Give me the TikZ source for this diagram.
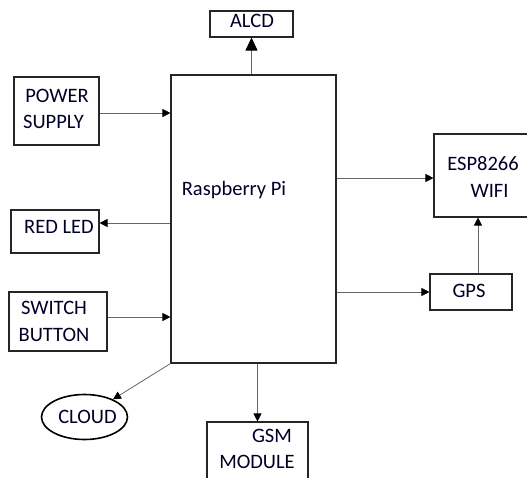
\documentclass[tikz,border=0pt]{standalone}
\usepackage{fontspec}
\setmainfont{Carlito}
\usetikzlibrary{arrows.meta,shapes.geometric}
\begin{document}
\begin{tikzpicture}[x=1pt,y=-1pt,
  box/.style={draw=black!85, line width=1.1pt, inner sep=0pt},
  txt/.style={font=\fontsize{20.5}{27}\selectfont, text=black!85!blue, inner sep=0pt, anchor=base},
  con/.style={draw=black!60, line width=0.8pt, -{Triangle[length=8pt,width=8pt,fill=black,color=black]}},
  bigcon/.style={draw=black!60, line width=0.8pt, -{Triangle[length=13pt,width=12pt,fill=black,color=black]}},
]
\path[use as bounding box] (0,0) rectangle (527,477);
\clip (0,0) rectangle (527,477);

% boxes
\node[box, minimum width=165pt, minimum height=288pt] (pi) at (253.5,219) {};
\node[box, minimum width=83pt, minimum height=26pt] (alcd) at (251.5,24) {};
\node[box, minimum width=85pt, minimum height=68pt] (ps) at (56.5,111) {};
\node[box, minimum width=88pt, minimum height=43pt] (led) at (55,231.5) {};
\node[box, minimum width=98pt, minimum height=59pt] (sw) at (58,321.5) {};
\node[box, minimum width=106pt, minimum height=83pt] (esp) at (487,175.5) {};
\node[box, minimum width=82pt, minimum height=36pt] (gps) at (471,292) {};
\node[box, minimum width=101pt, minimum height=68pt] (gsm) at (257.5,456) {};
\node[draw=black, line width=1.6pt, ellipse, inner sep=0pt, minimum width=86pt, minimum height=45pt] (cloud) at (84.5,417) {};

% texts
\node[txt] (tpi) at (234,195) {Raspberry Pi};
\node[txt] (talcd) at (252,27) {ALCD};
\node[txt] (tps1) at (57,102) {POWER};
\node[txt] (tps2) at (53.5,128) {SUPPLY};
\node[txt] (tled) at (59,233) {RED LED};
\node[txt] (tsw1) at (54,314) {SWITCH};
\node[txt] (tsw2) at (54,341) {BUTTON};
\node[txt] (tcloud) at (87.5,423) {CLOUD};
\node[txt] (tgsm1) at (272,442) {GSM};
\node[txt] (tgsm2) at (257,468) {MODULE};
\node[txt] (tesp1) at (483,170) {ESP8266};
\node[txt] (tesp2) at (489.5,197) {WIFI};
\node[txt] (tgps) at (469,297) {GPS};

% connectors
\draw[bigcon] (alcd.south |- pi.north) -- (alcd.south);
\draw[con] ([yshift=-2pt]ps.east) -- ([yshift=-2pt]ps.east -| pi.west);
\draw[con] ([yshift=8.5pt]led.east -| pi.west) -- ([yshift=8.5pt]led.east);
\draw[con] ([yshift=4.5pt]sw.east) -- ([yshift=4.5pt]sw.east -| pi.west);
\draw[con] (pi.south west) -- (cloud);
\draw[con] (gsm.north |- pi.south) -- (gsm.north);
\draw[con] ([yshift=-2.5pt]esp.west -| pi.east) -- ([yshift=-2.5pt]esp.west);
\draw[con] (gps.west -| pi.east) -- (gps.west);
\draw[con] ([xshift=7pt]gps.north) -- ([xshift=7pt]gps.north |- esp.south);
\end{tikzpicture}
\end{document}
